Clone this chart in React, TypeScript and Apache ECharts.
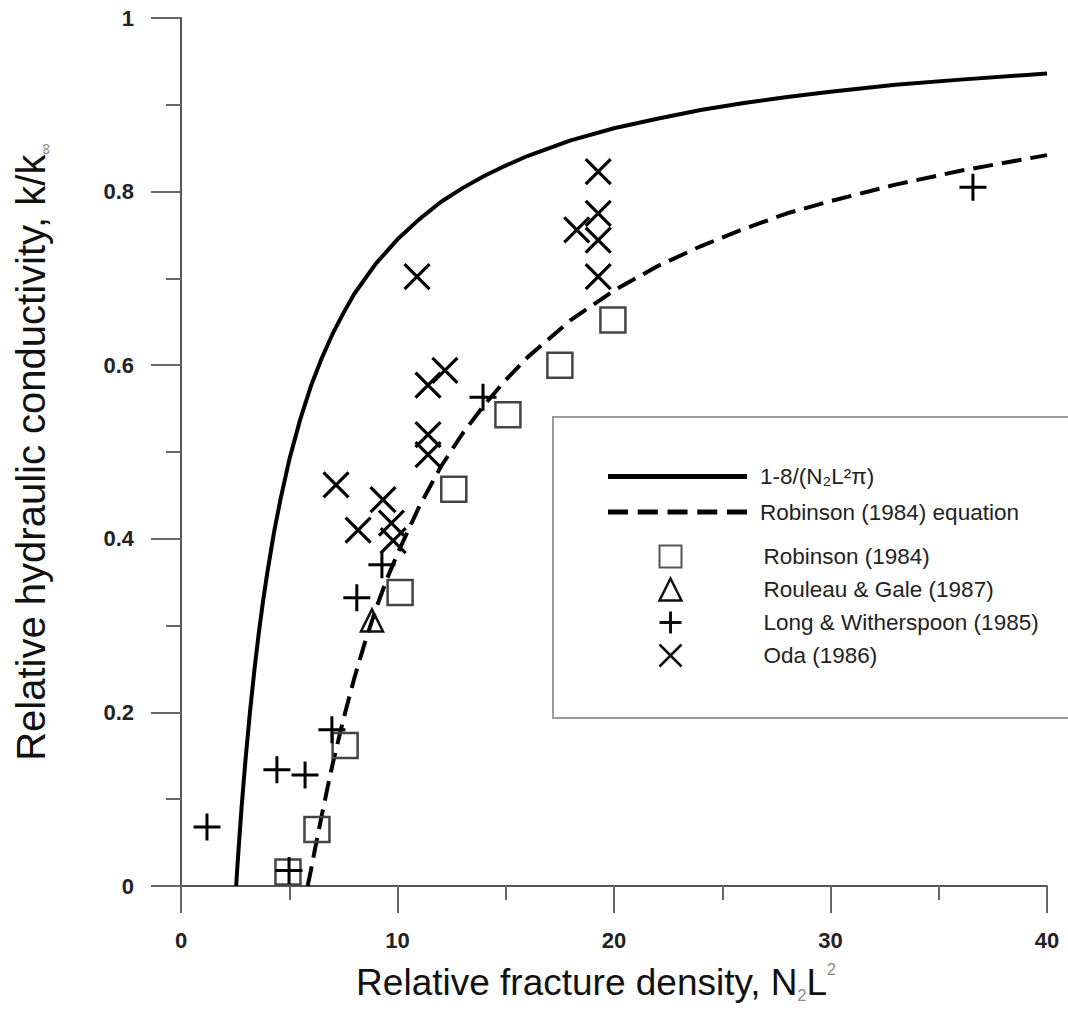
import React, { useEffect, useRef } from "react";
import * as echarts from "echarts";

// ---- data ----
const xTickValues = [0, 10, 20, 30, 40];
const yTickValues = [0, 0.2, 0.4, 0.6, 0.8, 1];

// 1-8/(N2 L^2 pi) curve
const theoryCurve: [number, number][] = [
  [2.55, 0], [2.6, 0.021], [2.7, 0.057], [2.8, 0.091], [2.9, 0.122], [3.0, 0.151],
  [3.2, 0.204], [3.4, 0.251], [3.6, 0.293], [3.8, 0.33], [4.0, 0.363], [4.3, 0.408],
  [4.6, 0.446], [5.0, 0.491], [5.5, 0.537], [6.0, 0.576], [6.5, 0.608], [7, 0.636],
  [7.5, 0.66], [8, 0.682], [9, 0.717], [10, 0.745], [11, 0.768], [12, 0.788],
  [13, 0.804], [14, 0.818], [15, 0.83], [16, 0.841], [18, 0.859], [20, 0.873],
  [22, 0.884], [24, 0.894], [26, 0.902], [28, 0.909], [30, 0.915], [33, 0.923],
  [36, 0.929], [40, 0.936],
];

// Robinson (1984) equation
const robinsonCurve: [number, number][] = [
  [5.85, 0], [6.0, 0.018], [6.2, 0.044], [6.5, 0.081], [6.8, 0.117], [7, 0.14],
  [7.5, 0.192], [8, 0.239], [8.5, 0.281], [9, 0.319], [9.5, 0.353], [10, 0.383],
  [11, 0.437], [12, 0.483], [13, 0.521], [14, 0.554], [15, 0.583], [16, 0.609],
  [18, 0.652], [20, 0.686], [22, 0.714], [24, 0.737], [26, 0.757], [28, 0.775],
  [30, 0.789], [33, 0.808], [36, 0.824], [40, 0.842],
];

const robinsonData: [number, number][] = [
  [4.94, 0.016], [6.28, 0.065], [7.58, 0.162], [10.12, 0.338],
  [12.6, 0.457], [15.1, 0.543], [17.5, 0.6], [19.95, 0.652],
];

const rouleauData: [number, number][] = [[8.82, 0.306]];

const longData: [number, number][] = [
  [1.2, 0.068], [4.43, 0.134], [4.99, 0.018], [5.73, 0.128], [6.97, 0.18],
  [8.12, 0.332], [9.28, 0.37], [13.95, 0.563], [36.58, 0.805],
];

const odaData: [number, number][] = [
  [7.16, 0.462], [8.18, 0.41], [9.33, 0.445], [9.72, 0.418], [9.8, 0.398],
  [10.9, 0.702], [11.41, 0.577], [11.41, 0.52], [11.41, 0.497], [12.19, 0.594],
  [18.28, 0.756], [19.27, 0.823], [19.27, 0.775], [19.27, 0.744], [19.27, 0.702],
];

const seriesNames = {
  theory: "1-8/(N\u2082L\u00B2\u03C0)",
  robEq: "Robinson (1984) equation",
  rob: "Robinson (1984)",
  rou: "Rouleau & Gale (1987)",
  long: "Long & Witherspoon (1985)",
  oda: "Oda (1986)",
};

const FONT = "'Liberation Sans', Arial, Helvetica, sans-serif";
const PLUS = "path://M5,0L5,10M0,5L10,5";
const CROSS = "path://M0,0L10,10M10,0L0,10";
const SOLID_ICON = "path://M0,0h139v5h-139z";
const DASH_ICON =
  "path://M0,0h20v5h-20zM29.75,0h20v5h-20zM59.5,0h20v5h-20zM89.25,0h20v5h-20zM119,0h20v5h-20z";

export default function App() {
  const ref = useRef<HTMLDivElement>(null);

  useEffect(() => {
    if (!ref.current) return;
    const chart = echarts.init(ref.current, undefined, { renderer: "svg" });

    const option: any = {
      animation: false,
      backgroundColor: "#fff",
      textStyle: { fontFamily: FONT },
      grid: { left: 181, right: 21, top: 18, bottom: 126, containLabel: false },
      xAxis: {
        type: "value",
        min: 0,
        max: 40,
        interval: 10,
        name: "{a|Relative fracture density, N}{sub|2}{a|L}{sup|2}",
        nameLocation: "middle",
        nameGap: 75,
        nameTextStyle: {
          padding: [0, 36, 0, 0],
          rich: {
            a: { fontSize: 37, fontFamily: FONT, color: "#111", lineHeight: 42 },
            sub: { fontSize: 16, fontFamily: FONT, color: "#888", verticalAlign: "bottom", lineHeight: 42 },
            sup: { fontSize: 16, fontFamily: FONT, color: "#888", verticalAlign: "top", lineHeight: 42 },
          },
        },
        axisLine: { show: true, onZero: false, lineStyle: { color: "#555", width: 2 } },
        axisTick: { show: true, length: 27, lineStyle: { color: "#666", width: 2 } },
        minorTick: { show: true, splitNumber: 2, length: 14, lineStyle: { color: "#666", width: 2 } },
        splitLine: { show: false },
        axisLabel: {
          margin: 43,
          fontSize: 22,
          fontWeight: "bold",
          color: "#222",
          fontFamily: FONT,
          formatter: (v: number) => (xTickValues.includes(v) ? String(v) : ""),
        },
      },
      yAxis: {
        type: "value",
        min: 0,
        max: 1,
        interval: 0.2,
        name: "{a|Relative hydraulic conductivity, k/k}{s|\u221E}",
        nameLocation: "middle",
        nameGap: 128,
        nameRotate: 90,
        nameTextStyle: {
          rich: {
            a: { fontSize: 40, fontFamily: FONT, color: "#111", lineHeight: 44 },
            s: { fontSize: 16, fontFamily: FONT, color: "#888", verticalAlign: "bottom", lineHeight: 44 },
          },
        },
        axisLine: { show: true, onZero: false, lineStyle: { color: "#555", width: 2 } },
        axisTick: { show: true, length: 30, lineStyle: { color: "#666", width: 2 } },
        minorTick: { show: true, splitNumber: 2, length: 15, lineStyle: { color: "#666", width: 2 } },
        splitLine: { show: false },
        axisLabel: {
          margin: 47,
          fontSize: 22,
          fontWeight: "bold",
          color: "#222",
          fontFamily: FONT,
          formatter: (v: number) => {
            const hit = yTickValues.find((t) => Math.abs(t - v) < 1e-9);
            return hit === undefined ? "" : String(hit);
          },
        },
      },
      legend: [
        {
          left: 608,
          top: 465,
          padding: 0,
          orient: "vertical",
          itemWidth: 139,
          itemHeight: 5,
          itemGap: 12.5,
          selectedMode: false,
          textStyle: { fontSize: 22.5, fontFamily: FONT, color: "#222", padding: [0, 0, 0, 8] },
          data: [
            { name: seriesNames.theory, icon: SOLID_ICON, itemStyle: { color: "#000", borderWidth: 0 } },
            { name: seriesNames.robEq, icon: DASH_ICON, itemStyle: { color: "#000", borderWidth: 0 } },
          ],
        },
        {
          left: 657,
          top: 543,
          padding: 0,
          orient: "vertical",
          itemWidth: 22,
          itemHeight: 22,
          itemGap: 6,
          selectedMode: false,
          textStyle: { fontSize: 22.5, fontFamily: FONT, color: "#222", padding: [0, 0, 0, 77] },
          data: [
            { name: seriesNames.rob, itemStyle: { color: "none", borderColor: "#555", borderWidth: 2 } },
            { name: seriesNames.rou, itemStyle: { color: "none", borderColor: "#111", borderWidth: 2.5 } },
            { name: seriesNames.long, itemStyle: { color: "none", borderColor: "#111", borderWidth: 3 } },
            { name: seriesNames.oda, itemStyle: { color: "none", borderColor: "#111", borderWidth: 2.5 } },
          ],
        },
      ],
      graphic: [
        {
          type: "rect",
          shape: { x: 553, y: 417, width: 540, height: 301 },
          style: { fill: "none", stroke: "#9a9a9a", lineWidth: 2 },
          z: 1,
        },
      ],
      series: [
        {
          name: seriesNames.theory,
          type: "line",
          data: theoryCurve,
          showSymbol: false,
          symbol: "none",
          itemStyle: { color: "#000" },
          lineStyle: { color: "#000", width: 4 },
          z: 2,
        },
        {
          name: seriesNames.robEq,
          type: "line",
          data: robinsonCurve,
          showSymbol: false,
          symbol: "none",
          itemStyle: { color: "#000" },
          lineStyle: { color: "#000", width: 4, type: [20, 9] },
          z: 2,
        },
        {
          name: seriesNames.rob,
          type: "scatter",
          data: robinsonData,
          symbol: "rect",
          symbolSize: 25,
          itemStyle: { color: "none", borderColor: "#444", borderWidth: 2.5, opacity: 1 },
          z: 3,
        },
        {
          name: seriesNames.rou,
          type: "scatter",
          data: rouleauData,
          symbol: "triangle",
          symbolSize: 22,
          itemStyle: { color: "none", borderColor: "#111", borderWidth: 2.5, opacity: 1 },
          z: 3,
        },
        {
          name: seriesNames.long,
          type: "scatter",
          data: longData,
          symbol: PLUS,
          symbolSize: 27,
          itemStyle: { color: "none", borderColor: "#000", borderWidth: 3, opacity: 1 },
          z: 3,
        },
        {
          name: seriesNames.oda,
          type: "scatter",
          data: odaData,
          symbol: CROSS,
          symbolSize: 25,
          itemStyle: { color: "none", borderColor: "#000", borderWidth: 3.2, opacity: 1 },
          z: 3,
        },
      ],
    };

    chart.setOption(option);
    return () => chart.dispose();
  }, []);

  return (
    <div
      ref={ref}
      style={{ position: "fixed", left: 0, top: 0, width: 1068, height: 1012, background: "#fff" }}
    />
  );
}
